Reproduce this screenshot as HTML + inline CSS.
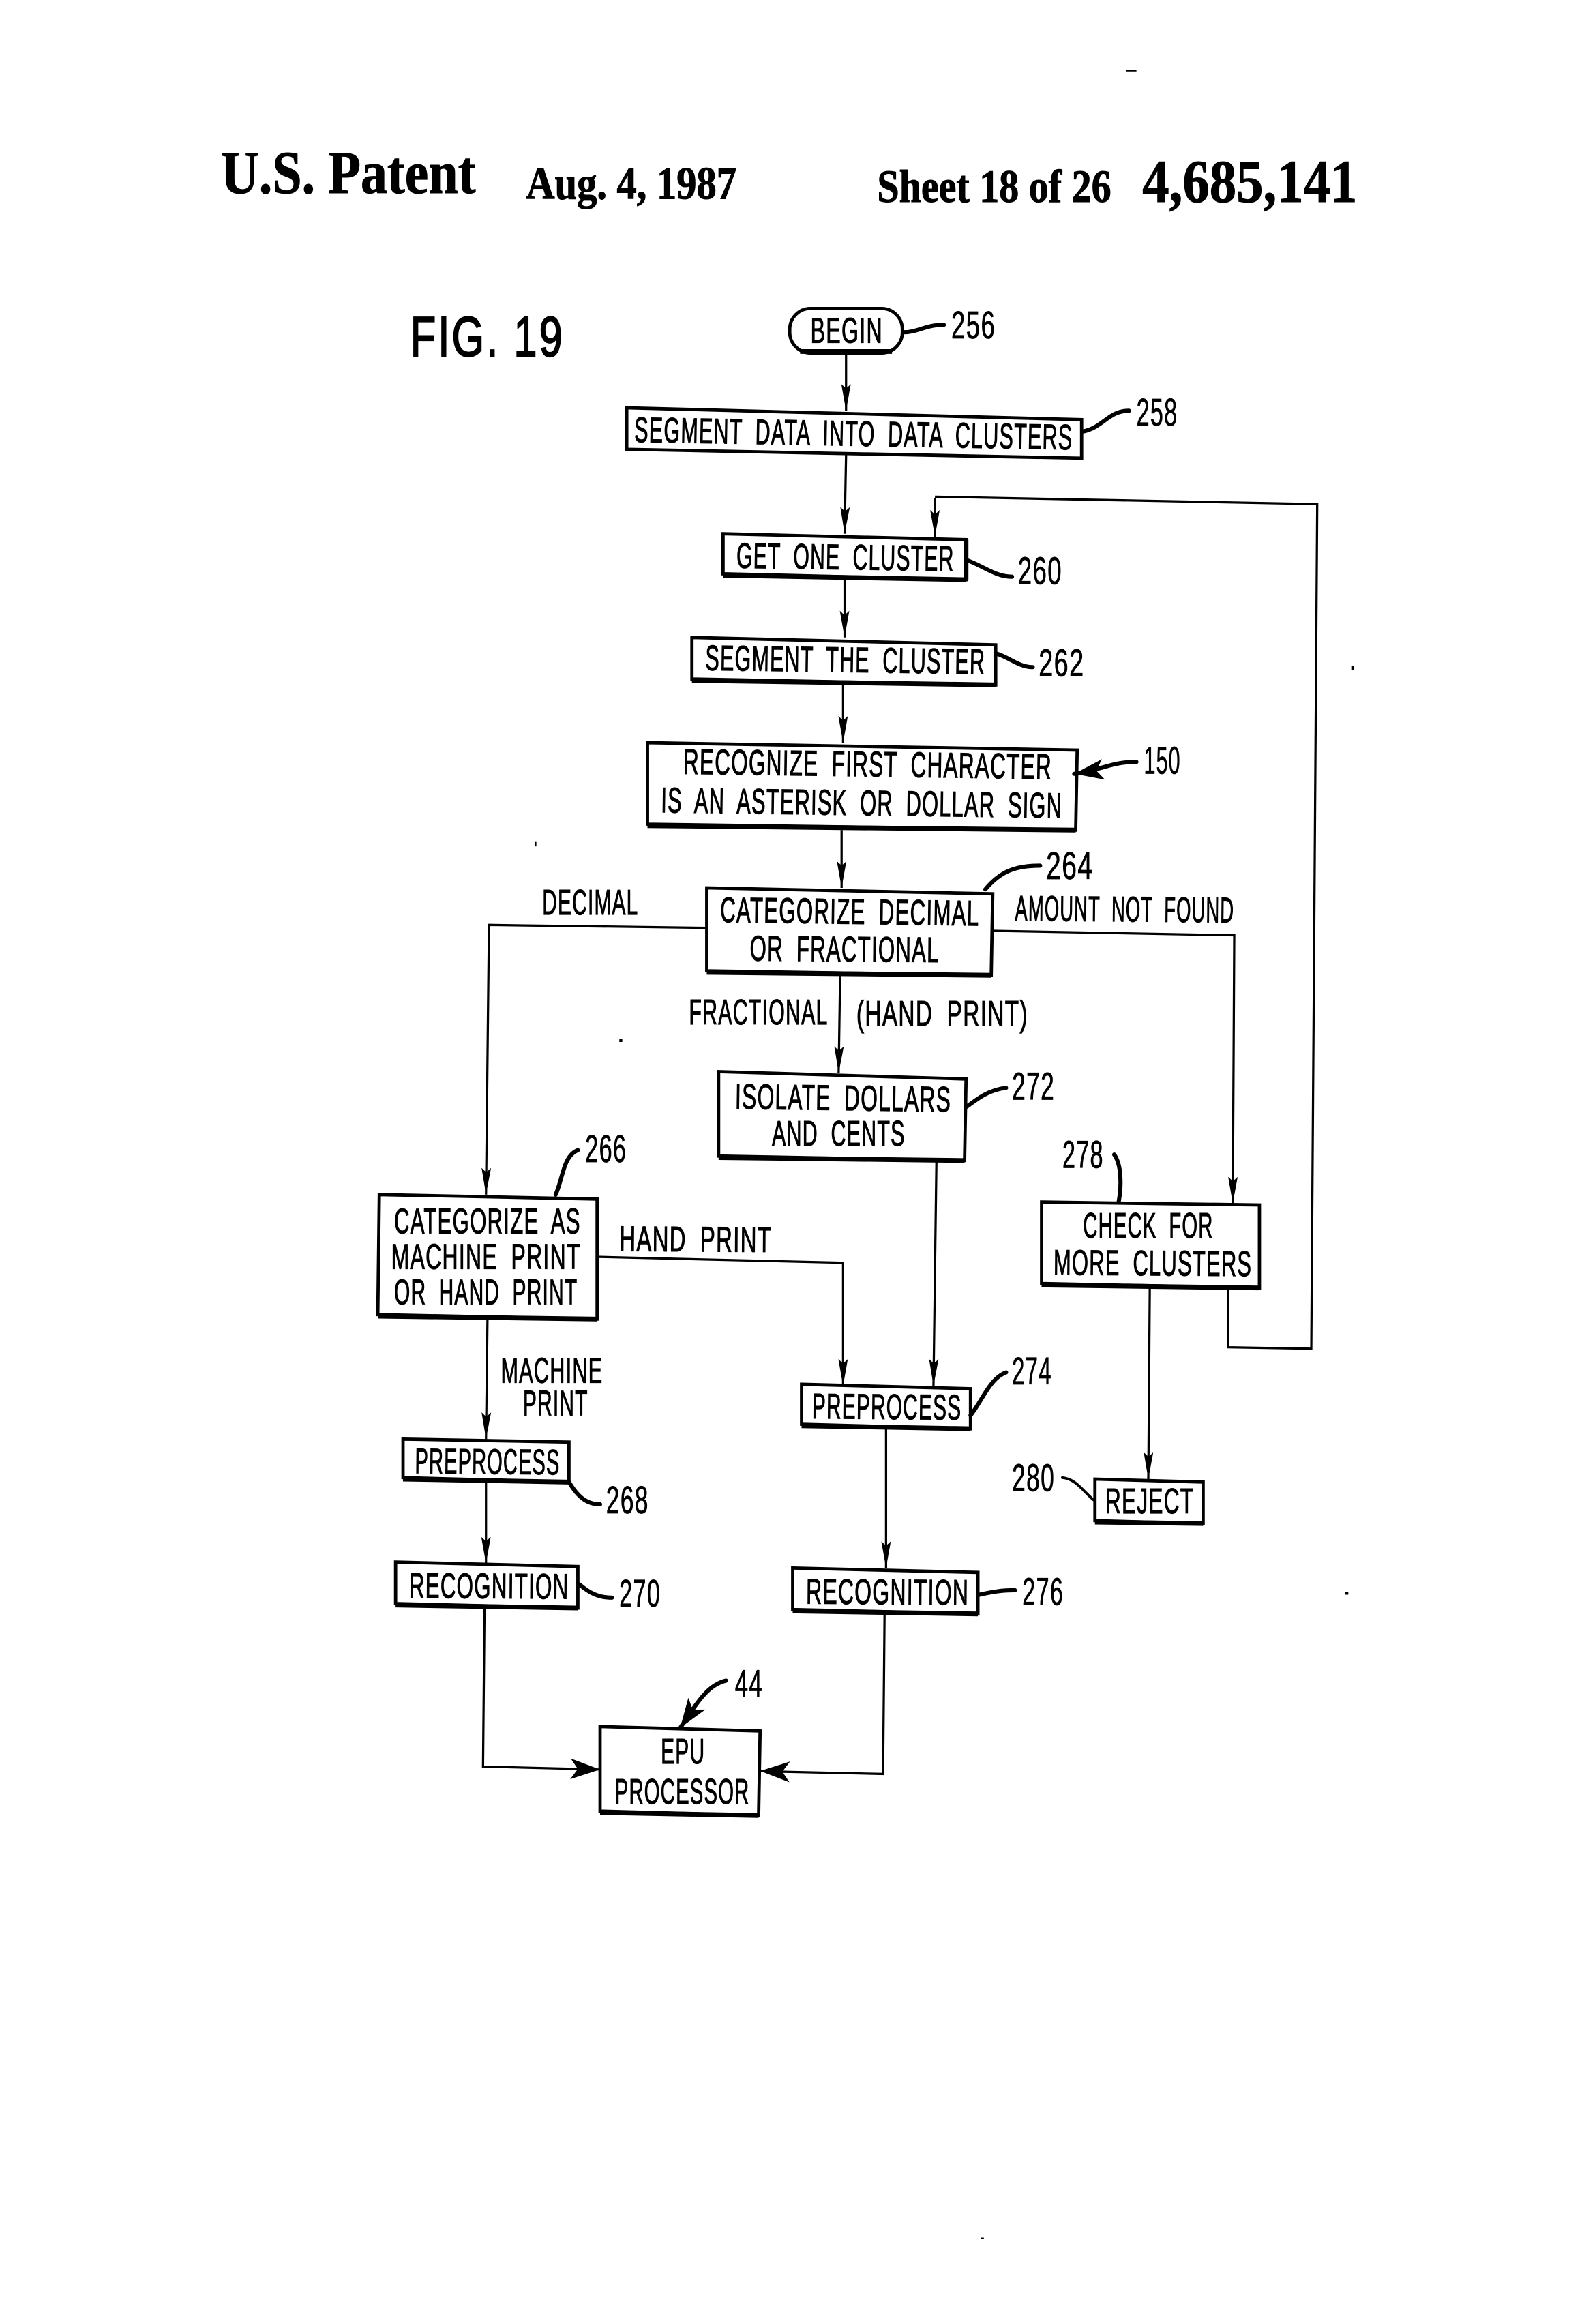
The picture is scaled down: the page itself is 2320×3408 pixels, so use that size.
<!DOCTYPE html>
<html><head><meta charset="utf-8"><title>U.S. Patent 4,685,141 Fig. 19</title>
<style>
html,body{margin:0;padding:0;background:#fff}
svg{display:block}
.s{font-family:"Liberation Serif",serif;font-weight:bold;fill:#000;stroke:#000;stroke-width:.5}
.t{font-family:"Liberation Sans",sans-serif;font-size:24px;fill:#000;stroke:#000;stroke-width:.55;word-spacing:7px;letter-spacing:1px}
.n{font-family:"Liberation Sans",sans-serif;font-size:26px;fill:#000;stroke:#000;stroke-width:.4;letter-spacing:1px}
.b{fill:none;stroke:#000;stroke-width:2.2}
.e{fill:none;stroke:#000;stroke-width:3.2}
.l{fill:none;stroke:#000;stroke-width:1.5}
.a{fill:none;stroke:#000;stroke-width:1.5;marker-end:url(#ah)}
.q{fill:none;stroke:#000;stroke-width:2.8;stroke-linecap:round}
</style></head><body>
<svg xmlns="http://www.w3.org/2000/svg" width="2320" height="3408" viewBox="0 0 1067.7 1568">
<defs>
<marker id="ah" markerUnits="userSpaceOnUse" markerWidth="20" markerHeight="10" refX="18" refY="5" orient="auto"><path d="M0 1.8 L18 5 L0 8.2 L3 5Z" fill="#000"/></marker>
<marker id="ab" markerUnits="userSpaceOnUse" markerWidth="22" markerHeight="16" refX="20" refY="8" orient="auto"><path d="M0 1 L20 8 L0 15 L5 8Z" fill="#000"/></marker>
</defs>
<rect width="1068" height="1568" fill="#fff"/>

<text class="s" x="149" y="130" font-size="41" textLength="172" lengthAdjust="spacingAndGlyphs">U.S. Patent</text>
<text class="s" x="355" y="134" font-size="31" textLength="142" lengthAdjust="spacingAndGlyphs">Aug. 4, 1987</text>
<text class="s" x="592" y="136" font-size="31" textLength="158" lengthAdjust="spacingAndGlyphs">Sheet 18 of 26</text>
<text class="s" x="771" y="136" font-size="41" textLength="145" lengthAdjust="spacingAndGlyphs">4,685,141</text>
<text x="277" y="240" font-family="Liberation Sans,sans-serif" font-size="38" stroke="#000" stroke-width="1" letter-spacing="2" textLength="104" lengthAdjust="spacingAndGlyphs">FIG. 19</text>

<!-- BEGIN -->
<rect class="b" x="533" y="208" width="76" height="30" rx="14"/>
<path class="e" d="M540 237 H602"/>
<text class="t" x="547" y="231" textLength="49" lengthAdjust="spacingAndGlyphs">BEGIN</text>
<path class="q" d="M610 224 C620 224 624 219 637 219"/>
<text class="n" x="642" y="228" textLength="30" lengthAdjust="spacingAndGlyphs">256</text>
<path class="a" d="M571 238 L571 277"/>

<!-- SEGMENT DATA -->
<path class="b" d="M423 275 L730 283 L730 309 L423 303Z"/>
<text class="t" x="428" y="298" transform="rotate(1 428 298)" textLength="296" lengthAdjust="spacingAndGlyphs">SEGMENT DATA INTO DATA CLUSTERS</text>
<path class="q" d="M731 291 C745 288 748 277 762 277"/>
<text class="n" x="767" y="287" textLength="28" lengthAdjust="spacingAndGlyphs">258</text>
<path class="a" d="M571 307 L570 360"/>

<!-- GET ONE -->
<path class="b" d="M488 360 L652 364 L652 391 L488 387Z"/>
<path class="e" d="M488 388 L652 391 M652 364 V391"/>
<text class="t" x="497" y="383" transform="rotate(.8 497 383)" textLength="147" lengthAdjust="spacingAndGlyphs">GET ONE CLUSTER</text>
<path class="q" d="M653 378 C664 382 672 389 683 389"/>
<text class="n" x="687" y="394" textLength="30" lengthAdjust="spacingAndGlyphs">260</text>
<path class="a" d="M631 336 L631 362"/>
<path class="l" d="M829 870 L829 909 L885 910 L889 340 L631 335"/>
<path class="a" d="M570 391 L570 430"/>

<!-- SEGMENT THE CLUSTER -->
<path class="b" d="M467 430 L672 435 L672 462 L467 458Z"/>
<path class="e" d="M467 459 L672 462"/>
<text class="t" x="476" y="452" transform="rotate(.8 476 452)" textLength="189" lengthAdjust="spacingAndGlyphs">SEGMENT THE CLUSTER</text>
<path class="q" d="M673 441 C682 444 688 450 697 450"/>
<text class="n" x="701" y="456" textLength="31" lengthAdjust="spacingAndGlyphs">262</text>
<path class="a" d="M569 462 L569 501"/>

<!-- RECOGNIZE -->
<path class="b" d="M437 501 L727 506 L726 560 L437 556Z"/>
<path class="e" d="M437 557 L726 560"/>
<text class="t" x="461" y="522" transform="rotate(.8 461 522)" textLength="249" lengthAdjust="spacingAndGlyphs">RECOGNIZE FIRST CHARACTER</text>
<text class="t" x="446" y="548" transform="rotate(.8 446 548)" textLength="271" lengthAdjust="spacingAndGlyphs">IS AN ASTERISK OR DOLLAR SIGN</text>
<path class="q" d="M767 514 C750 514 745 519 725 522" marker-end="url(#ab)"/>
<text class="n" x="772" y="522" textLength="25" lengthAdjust="spacingAndGlyphs">150</text>
<path class="a" d="M568 560 L568 599"/>

<!-- CATEGORIZE DECIMAL -->
<path class="b" d="M477 599 L670 603 L669 658 L477 655Z"/>
<path class="e" d="M477 656 L669 658"/>
<text class="t" x="486" y="622" transform="rotate(.8 486 622)" textLength="175" lengthAdjust="spacingAndGlyphs">CATEGORIZE DECIMAL</text>
<text class="t" x="506" y="648" transform="rotate(.5 506 648)" textLength="128" lengthAdjust="spacingAndGlyphs">OR FRACTIONAL</text>
<path class="q" d="M665 600 C675 588 685 584 702 584"/>
<text class="n" x="706" y="593" textLength="32" lengthAdjust="spacingAndGlyphs">264</text>
<text class="t" x="366" y="617" textLength="65" lengthAdjust="spacingAndGlyphs">DECIMAL</text>
<path class="a" d="M477 626 L330 624 L328 806"/>
<text class="t" x="685" y="621" transform="rotate(.5 685 621)" textLength="148" lengthAdjust="spacingAndGlyphs">AMOUNT NOT FOUND</text>
<path class="a" d="M670 628 L833 631 L832 812"/>
<text class="t" x="465" y="691" textLength="94" lengthAdjust="spacingAndGlyphs">FRACTIONAL</text>
<text class="t" x="578" y="692" textLength="116" lengthAdjust="spacingAndGlyphs">(HAND PRINT)</text>
<path class="a" d="M567 658 L566 724"/>

<!-- ISOLATE -->
<path class="b" d="M485 723 L652 728 L651 783 L485 780Z"/>
<path class="e" d="M485 781 L651 783"/>
<text class="t" x="496" y="748" transform="rotate(.8 496 748)" textLength="146" lengthAdjust="spacingAndGlyphs">ISOLATE DOLLARS</text>
<text class="t" x="521" y="773" textLength="90" lengthAdjust="spacingAndGlyphs">AND CENTS</text>
<path class="q" d="M652 747 C660 741 668 735 679 734"/>
<text class="n" x="683" y="742" textLength="29" lengthAdjust="spacingAndGlyphs">272</text>
<path class="a" d="M632 783 L630 935"/>

<!-- CHECK -->
<text class="n" x="717" y="788" textLength="28" lengthAdjust="spacingAndGlyphs">278</text>
<path class="q" d="M752 779 C757 786 757 800 755 811"/>
<path class="b" d="M703 811 L850 813 L850 869 L703 866Z"/>
<path class="e" d="M703 867 L850 869"/>
<text class="t" x="731" y="835" textLength="88" lengthAdjust="spacingAndGlyphs">CHECK FOR</text>
<text class="t" x="711" y="860" transform="rotate(.4 711 860)" textLength="134" lengthAdjust="spacingAndGlyphs">MORE CLUSTERS</text>
<path class="a" d="M776 869 L775 998"/>

<!-- REJECT -->
<path class="b" d="M739 998 L812 1000 L812 1028 L739 1026Z"/>
<path class="e" d="M739 1027 L812 1028"/>
<text class="t" x="746" y="1021" textLength="60" lengthAdjust="spacingAndGlyphs">REJECT</text>
<text class="n" x="683" y="1006" textLength="29" lengthAdjust="spacingAndGlyphs">280</text>
<path class="q" d="M717 997 C726 998 730 1005 738 1012" style="stroke-width:1.8"/>

<!-- CATEGORIZE AS -->
<text class="n" x="395" y="784" textLength="28" lengthAdjust="spacingAndGlyphs">266</text>
<path class="q" d="M375 806 C380 795 380 780 390 776"/>
<path class="b" d="M256 806 L403 809 L403 890 L255 887Z"/>
<path class="e" d="M255 888 L403 890"/>
<text class="t" x="266" y="832" textLength="126" lengthAdjust="spacingAndGlyphs">CATEGORIZE AS</text>
<text class="t" x="264" y="856" textLength="128" lengthAdjust="spacingAndGlyphs">MACHINE PRINT</text>
<text class="t" x="266" y="880" textLength="124" lengthAdjust="spacingAndGlyphs">OR HAND PRINT</text>
<text class="t" x="418" y="844" transform="rotate(.4 418 844)" textLength="103" lengthAdjust="spacingAndGlyphs">HAND PRINT</text>
<path class="a" d="M403 848 L569 852 L569 935"/>
<text class="t" x="338" y="933" textLength="69" lengthAdjust="spacingAndGlyphs">MACHINE</text>
<text class="t" x="353" y="955" textLength="44" lengthAdjust="spacingAndGlyphs">PRINT</text>
<path class="a" d="M329 890 L328 971"/>

<!-- PREPROCESS L -->
<path class="b" d="M272 971 L384 973 L384 1000 L272 997Z"/>
<path class="e" d="M272 998 L384 1000"/>
<text class="t" x="280" y="994" transform="rotate(.5 280 994)" textLength="98" lengthAdjust="spacingAndGlyphs">PREPROCESS</text>
<path class="q" d="M384 1000 C390 1010 396 1015 405 1015"/>
<text class="n" x="409" y="1021" textLength="29" lengthAdjust="spacingAndGlyphs">268</text>
<path class="a" d="M328 1000 L328 1055"/>

<!-- RECOGNITION L -->
<path class="b" d="M267 1054 L390 1057 L390 1085 L267 1082Z"/>
<path class="e" d="M267 1083 L390 1085"/>
<text class="t" x="276" y="1078" transform="rotate(.4 276 1078)" textLength="108" lengthAdjust="spacingAndGlyphs">RECOGNITION</text>
<path class="q" d="M391 1069 C398 1075 404 1078 413 1078"/>
<text class="n" x="418" y="1084" textLength="28" lengthAdjust="spacingAndGlyphs">270</text>
<path class="l" d="M327 1085 L326 1192 L390 1193.6"/>
<path class="a" d="M380 1193.4 L405 1194" style="marker-end:url(#ab)"/>

<!-- PREPROCESS R -->
<path class="b" d="M541 934 L655 937 L655 964 L541 961Z"/>
<path class="e" d="M541 962 L655 964"/>
<text class="t" x="548" y="957" transform="rotate(.5 548 957)" textLength="101" lengthAdjust="spacingAndGlyphs">PREPROCESS</text>
<path class="q" d="M655 955 C663 945 668 930 679 926"/>
<text class="n" x="683" y="934" textLength="27" lengthAdjust="spacingAndGlyphs">274</text>
<path class="a" d="M598 964 L598 1058"/>

<!-- RECOGNITION R -->
<path class="b" d="M535 1058 L660 1061 L660 1089 L535 1086Z"/>
<path class="e" d="M535 1087 L660 1089"/>
<text class="t" x="544" y="1082" transform="rotate(.4 544 1082)" textLength="110" lengthAdjust="spacingAndGlyphs">RECOGNITION</text>
<path class="q" d="M661 1076 C670 1074 676 1073 685 1073"/>
<text class="n" x="690" y="1083" textLength="28" lengthAdjust="spacingAndGlyphs">276</text>
<path class="l" d="M597 1089 L596 1197 L525 1195.4"/>
<path class="a" d="M530 1195.5 L513 1195" style="marker-end:url(#ab)"/>

<!-- EPU -->
<path class="b" d="M405 1165 L513 1168 L512 1225 L405 1222Z"/>
<path class="e" d="M405 1223 L512 1225"/>
<text class="t" x="446" y="1190" textLength="30" lengthAdjust="spacingAndGlyphs">EPU</text>
<text class="t" x="415" y="1217" textLength="91" lengthAdjust="spacingAndGlyphs">PROCESSOR</text>
<path class="q" d="M490 1134 C477 1137 470 1150 459 1166" marker-end="url(#ab)"/>
<text class="n" x="496" y="1145" textLength="19" lengthAdjust="spacingAndGlyphs">44</text>

<!-- specks -->
<g fill="#000">
<rect x="760" y="47" width="7" height="1"/>
<rect x="912" y="449" width="2" height="3"/>
<rect x="361" y="568" width="1" height="3"/>
<rect x="418" y="701" width="2" height="2"/>
<rect x="908" y="1074" width="2" height="2"/>
<rect x="662" y="1510" width="2" height="1"/>
</g>
</svg>
</body></html>
